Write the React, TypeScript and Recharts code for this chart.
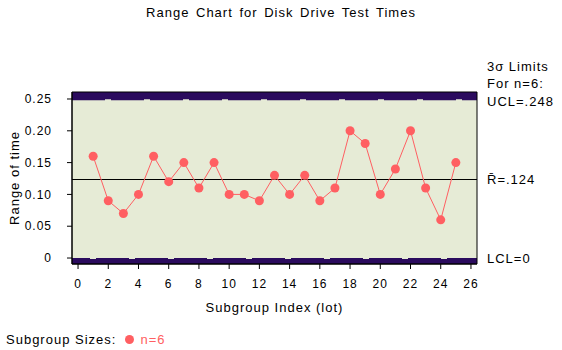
import React from "react";
import {
  LineChart,
  Line,
  XAxis,
  YAxis,
  ReferenceArea,
  ReferenceLine,
} from "recharts";

// subgroup index and range values
const lots = [1, 2, 3, 4, 5, 6, 7, 8, 9, 10, 11, 12, 13, 14, 15, 16, 17, 18, 19, 20, 21, 22, 23, 24, 25];
const ranges = [0.16, 0.09, 0.07, 0.1, 0.16, 0.12, 0.15, 0.11, 0.15, 0.1, 0.1, 0.09, 0.13, 0.1, 0.13, 0.09, 0.11, 0.2, 0.18, 0.1, 0.14, 0.2, 0.11, 0.06, 0.15];
const xTicks = [0, 2, 4, 6, 8, 10, 12, 14, 16, 18, 20, 22, 24, 26];
const yTicks = [0, 0.05, 0.1, 0.15, 0.2, 0.25];
const ucl = 0.248;
const rbar = 0.124;
const lcl = 0;

const data = lots.map((lot, i) => ({ lot, range: ranges[i] }));

const FONT = "'Liberation Sans', Arial, sans-serif";
const BG = "#E6EBD6";
const BAND = "#2B0B5E";
const RED = "#FF5F62";
const Y_MIN = -0.0094;
const Y_MAX = 0.261;
const LS = 1;

const fmtY = (v: number) => (v === 0 ? "0" : v.toFixed(2));

export default function App() {
  return (
    <div style={{ position: "relative", width: 562, height: 350, fontFamily: FONT, background: "#fff", letterSpacing: LS }}>
      <style>{`body{margin:0}`}</style>
      <div style={{ position: "absolute", top: 5, left: 0, width: 562, textAlign: "center", fontSize: 13, wordSpacing: 2 }}>
        Range Chart for Disk Drive Test Times
      </div>
      <LineChart
        width={562}
        height={350}
        data={data}
        margin={{ top: 92, right: 85, bottom: 56, left: 0 }}
        style={{ fontFamily: FONT, letterSpacing: LS }}
      >
        <XAxis
          dataKey="lot"
          type="number"
          domain={[-0.4, 26.4]}
          ticks={xTicks}
          height={30}
          tickSize={5}
          tickMargin={10}
          tick={{ fill: "#000", fontSize: 12 }}
          axisLine={{ stroke: "#000" }}
          tickLine={{ stroke: "#000" }}
          label={{ value: "Subgroup Index (lot)", position: "insideBottom", offset: -18, fill: "#000", fontSize: 13 }}
        />
        <YAxis
          type="number"
          domain={[Y_MIN, Y_MAX]}
          ticks={yTicks}
          tickFormatter={fmtY}
          width={72}
          tickSize={5}
          tickMargin={15}
          tick={{ fill: "#000", fontSize: 12 }}
          axisLine={{ stroke: "#000" }}
          tickLine={{ stroke: "#000" }}
          label={{ value: "Range of time", angle: -90, position: "insideLeft", offset: 14, fill: "#000", fontSize: 13, style: { textAnchor: "middle" } }}
        />
        <ReferenceArea x1={-0.4} x2={26.4} y1={Y_MIN} y2={Y_MAX} fill={BG} fillOpacity={1} stroke="none" />
        <ReferenceArea x1={-0.4} x2={26.4} y1={ucl} y2={Y_MAX} fill={BAND} fillOpacity={1} stroke="none" />
        <ReferenceArea x1={-0.4} x2={26.4} y1={Y_MIN} y2={lcl} fill={BAND} fillOpacity={1} stroke="none" />
        <ReferenceLine
          y={ucl}
          stroke={BG}
          strokeWidth={2}
          strokeDasharray="0 33 6 0"
          label={(props: any) => {
            const vb = props.viewBox;
            const x = vb.x + vb.width + 10;
            const y = vb.y;
            return (
              <g fontFamily={FONT} fontSize={13} fill="#000" style={{ letterSpacing: LS }}>
                <text x={x} y={y - 34} dominantBaseline="central">3σ Limits</text>
                <text x={x} y={y - 17} dominantBaseline="central">For n=6:</text>
                <text x={x} y={y + 1} dominantBaseline="central">UCL=.248</text>
              </g>
            );
          }}
        />
        <ReferenceLine
          y={lcl}
          stroke={BG}
          strokeWidth={2}
          strokeDasharray="0 18 6 15"
          label={{ value: "LCL=0", position: "right", offset: 10, fill: "#000", fontSize: 13 }}
        />
        <ReferenceLine
          y={rbar}
          stroke="#000"
          strokeWidth={1}
          shapeRendering="crispEdges"
          label={{ value: "R\u0304=.124", position: "right", offset: 10, fill: "#000", fontSize: 13 }}
        />
        <ReferenceArea x1={-0.4} x2={26.4} y1={Y_MIN} y2={Y_MAX} fill="none" stroke="#000" strokeWidth={1} />
        <Line
          dataKey="range"
          stroke={RED}
          strokeWidth={1}
          dot={{ r: 4.5, fill: RED, stroke: RED, strokeWidth: 0 }}
          activeDot={false}
          isAnimationActive={false}
        />
      </LineChart>
      <div style={{ position: "absolute", top: 332, left: 6, fontSize: 13, display: "flex", alignItems: "center" }}>
        <span>Subgroup Sizes:</span>
        <span style={{ display: "inline-block", width: 9, height: 9, borderRadius: "50%", background: RED, marginLeft: 9, marginRight: 6 }} />
        <span style={{ color: RED }}>n=6</span>
      </div>
    </div>
  );
}
